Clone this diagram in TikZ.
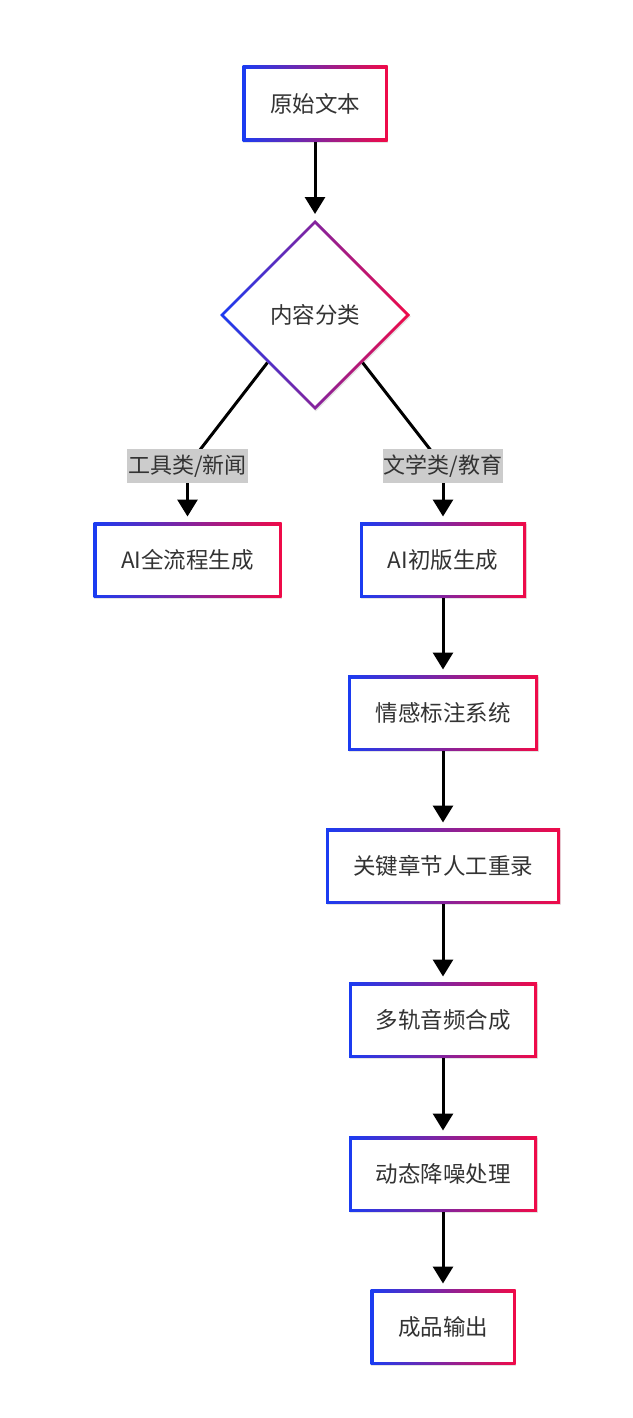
\documentclass[tikz,border=0pt]{standalone}
\usepackage{fontspec}
\setmainfont{Noto Sans CJK SC}
\usetikzlibrary{arrows.meta,shapes.geometric,shadows}
\pgfdeclarelayer{background}
\pgfsetlayers{background,main}
\definecolor{gl}{HTML}{1A3CF2}
\definecolor{gr}{HTML}{F00A48}
\definecolor{txt}{HTML}{333333}
\definecolor{lblbg}{HTML}{CCCCCC}
\tikzset{
  gbox/.style={rectangle, minimum width=#1, minimum height=75pt, inner sep=0pt, outer sep=0pt,
    text=txt, font=\fontsize{22.5}{27}\selectfont,
    drop shadow={shadow xshift=0.8pt, shadow yshift=-1.5pt, opacity=0.10, fill=black},
    path picture={
      \shade[left color=gl, right color=gr] (path picture bounding box.south west) rectangle (path picture bounding box.north east);
      \fill[white] ([shift={(3pt,3pt)}]path picture bounding box.south west) rectangle ([shift={(-3pt,-3pt)}]path picture bounding box.north east);
    }},
  gdiam/.style={diamond, minimum width=190pt, minimum height=190pt, inner sep=0pt, outer sep=0pt,
    text=txt, font=\fontsize{22.5}{27}\selectfont,
    drop shadow={shadow xshift=0.8pt, shadow yshift=-1.5pt, opacity=0.10, fill=black},
    path picture={
      \shade[left color=gl, right color=gr] (path picture bounding box.south west) rectangle (path picture bounding box.north east);
      \fill[white] ([yshift=-4.2pt]path picture bounding box.north) -- ([xshift=-4.2pt]path picture bounding box.east) -- ([yshift=4.2pt]path picture bounding box.south) -- ([xshift=4.2pt]path picture bounding box.west) -- cycle;
    }},
  lbl/.style={fill=lblbg, text=txt, font=\fontsize{22}{26}\selectfont, inner sep=1pt, minimum height=34pt, minimum width=119pt},
  arr/.style={line width=3pt, -{Triangle[length=17pt,width=20pt]}, shorten >=6pt},
  lnk/.style={line width=3pt}
}
\begin{document}
\begin{tikzpicture}[x=1pt,y=-1pt]
\useasboundingbox (0,0) rectangle (632,1418);
\node[gbox=145pt] (src) at (315,103.5) {原始文本};
\node[gdiam] (cls) at (315,315) {内容分类};
\node[lbl] (lab1) at (187.5,466) {工具类/新闻};
\node[lbl] (lab2) at (443,466) {文学类/教育};
\node[gbox=188pt] (full) at (187.5,560) {AI全流程生成};
\node[gbox=166pt] (init) at (443,560) {AI初版生成};
\node[gbox=190pt] (emo) at (443,713) {情感标注系统};
\node[gbox=234pt] (rec) at (443,866) {关键章节人工重录};
\node[gbox=188pt] (mix) at (443,1020) {多轨音频合成};
\node[gbox=188pt] (den) at (443,1174) {动态降噪处理};
\node[gbox=145pt] (out) at (443,1327) {成品输出};
\begin{pgfonlayer}{background}
\draw[arr] (src.south) -- (cls.north);
\draw[lnk] (cls.south west) -- (lab1.center);
\draw[arr] (lab1.center) -- (full.north);
\draw[lnk] (cls.south east) -- (lab2.center);
\draw[arr] (lab2.center) -- (init.north);
\draw[arr] (init.south) -- (emo.north);
\draw[arr] (emo.south) -- (rec.north);
\draw[arr] (rec.south) -- (mix.north);
\draw[arr] (mix.south) -- (den.north);
\draw[arr] (den.south) -- (out.north);
\end{pgfonlayer}
\end{tikzpicture}
\end{document}
